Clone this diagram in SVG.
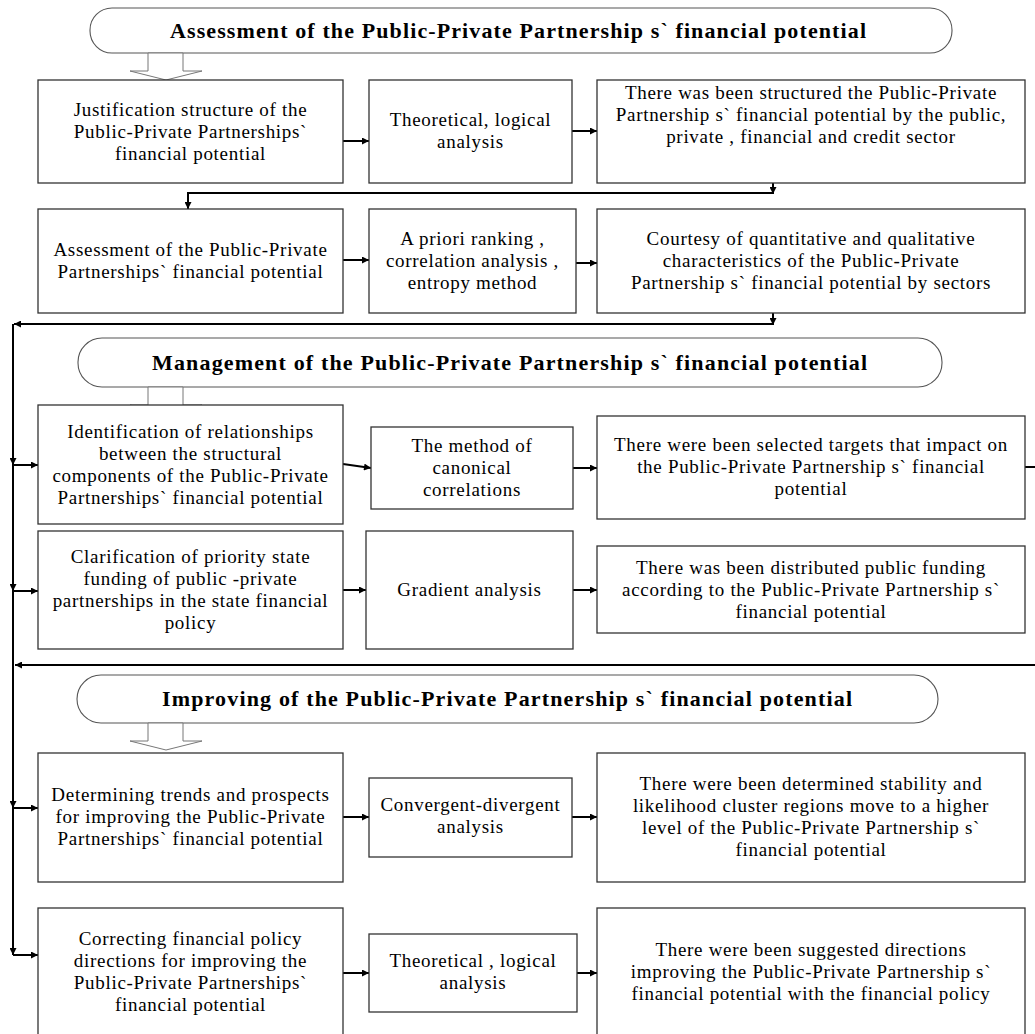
<svg xmlns="http://www.w3.org/2000/svg" width="1035" height="1034" viewBox="0 0 1035 1034">
<defs>
<marker id="ah" viewBox="0 0 10 10" refX="10" refY="5" markerWidth="9" markerHeight="7" markerUnits="userSpaceOnUse" orient="auto">
<path d="M0,0 L10,5 L0,10 Z" fill="#000"/>
</marker>
</defs>
<style>
.box{fill:#fff;stroke:#333;stroke-width:1.3}
.pill{fill:#fff;stroke:#555;stroke-width:1.1}
.hol{fill:#fff;stroke:#777;stroke-width:1}
.t{font-family:"Liberation Serif","Times New Roman",serif;font-size:19px;letter-spacing:0.7px;fill:#000;text-anchor:middle}
.h{font-family:"Liberation Serif","Times New Roman",serif;font-size:22px;font-weight:bold;fill:#000;text-anchor:middle}
.c{fill:none;stroke:#000;stroke-width:2}
.ca{fill:none;stroke:#000;stroke-width:2;marker-end:url(#ah)}
</style>
<rect width="1035" height="1034" fill="#fff"/>

<g id="connectors">
<line class="ca" x1="343" y1="141" x2="369" y2="141"/>
<line class="ca" x1="572" y1="131" x2="597" y2="131"/>
<line class="ca" x1="773" y1="183" x2="773" y2="194"/>
<path class="ca" d="M773,193 H188 V209"/>
<line class="ca" x1="343" y1="260" x2="369" y2="260"/>
<line class="ca" x1="576" y1="263" x2="597" y2="263"/>
<line class="ca" x1="773" y1="313" x2="773" y2="325"/>
<path class="ca" d="M773,324 H14"/>
<path class="ca" d="M13,324 V465"/>
<path class="ca" d="M13,465 V591"/>
<path class="ca" d="M13,591 V808"/>
<path class="ca" d="M13,808 V955"/>
<line class="ca" x1="13" y1="465" x2="38" y2="465"/>
<line class="ca" x1="13" y1="591" x2="38" y2="591"/>
<line class="ca" x1="13" y1="808" x2="38" y2="808"/>
<line class="ca" x1="13" y1="955" x2="38" y2="955"/>
<line class="ca" x1="343" y1="464" x2="371" y2="468"/>
<line class="ca" x1="573" y1="468" x2="597" y2="468"/>
<line class="c" x1="1025" y1="467" x2="1035" y2="467"/>
<line class="ca" x1="343" y1="590" x2="366" y2="590"/>
<line class="ca" x1="573" y1="590" x2="597" y2="590"/>
<path class="ca" d="M1035,665 H15"/>
<line class="ca" x1="343" y1="817" x2="369" y2="817"/>
<line class="ca" x1="572" y1="817" x2="597" y2="817"/>
<line class="ca" x1="343" y1="973" x2="369" y2="973"/>
<line class="ca" x1="577" y1="973" x2="597" y2="973"/>
</g>

<g id="stage1">
<rect class="pill" x="90" y="8" width="862" height="45" rx="22" ry="22"/>
<text class="h" x="518" y="38" textLength="696" lengthAdjust="spacing">Assessment of the Public-Private Partnership s` financial potential</text>
<polygon class="hol" points="148,53 183,53 183,71 202,71 166,80 130,71 148,71"/>
</g>

<g id="stage2">
<rect class="pill" x="78" y="338" width="864" height="49" rx="24" ry="24"/>
<text class="h" x="509.5" y="370" textLength="715" lengthAdjust="spacing">Management of the Public-Private Partnership s` financial potential</text>
<polygon class="hol" points="148,387 183,387 183,405 202,405 166,413 130,405 148,405"/>
</g>

<g id="stage3">
<rect class="pill" x="77" y="675" width="861" height="48" rx="24" ry="24"/>
<text class="h" x="507" y="706" textLength="690" lengthAdjust="spacing">Improving of the Public-Private Partnership s` financial potential</text>
<polygon class="hol" points="148,723 183,723 183,741 202,741 166,750 130,741 148,741"/>
</g>

<g id="b1"><rect class="box" x="38" y="80" width="305" height="103"/>
<text class="t"><tspan x="190.5" y="115.5">Justification structure  of the</tspan><tspan x="190.5" y="137.5">Public-Private Partnerships`</tspan><tspan x="190.5" y="159.5">financial potential</tspan></text></g>

<g id="b2"><rect class="box" x="369" y="80" width="203" height="103"/>
<text class="t"><tspan x="470.5" y="126">Theoretical, logical</tspan><tspan x="470.5" y="148">analysis</tspan></text></g>

<g id="b3"><rect class="box" x="597" y="80" width="428" height="103"/>
<text class="t"><tspan x="811" y="99">There was been structured  the Public-Private</tspan><tspan x="811" y="121">Partnership s` financial potential by the public,</tspan><tspan x="811" y="143">private , financial and credit sector</tspan></text></g>

<g id="b4"><rect class="box" x="38" y="209" width="305" height="104"/>
<text class="t"><tspan x="190.5" y="256">Assessment of the  Public-Private</tspan><tspan x="190.5" y="278">Partnerships` financial potential</tspan></text></g>

<g id="b5"><rect class="box" x="369" y="209" width="207" height="104"/>
<text class="t"><tspan x="472.5" y="245">A priori ranking ,</tspan><tspan x="472.5" y="267">correlation analysis ,</tspan><tspan x="472.5" y="289">entropy method</tspan></text></g>

<g id="b6"><rect class="box" x="597" y="209" width="428" height="104"/>
<text class="t"><tspan x="811" y="245">Courtesy of quantitative and qualitative</tspan><tspan x="811" y="267">characteristics of the Public-Private</tspan><tspan x="811" y="289">Partnership s` financial potential by sectors</tspan></text></g>

<g id="b7"><rect class="box" x="38" y="405" width="305" height="119"/>
<text class="t"><tspan x="190.5" y="437.5">Identification of relationships</tspan><tspan x="190.5" y="459.5">between the structural</tspan><tspan x="190.5" y="481.5">components of the  Public-Private</tspan><tspan x="190.5" y="503.5">Partnerships` financial potential</tspan></text></g>

<g id="b8"><rect class="box" x="371" y="427" width="202" height="82"/>
<text class="t"><tspan x="472" y="452">The method of</tspan><tspan x="472" y="474">canonical</tspan><tspan x="472" y="496">correlations</tspan></text></g>

<g id="b9"><rect class="box" x="597" y="416" width="428" height="103"/>
<text class="t"><tspan x="811" y="451">There were been selected targets that impact on</tspan><tspan x="811" y="473">the Public-Private Partnership s` financial</tspan><tspan x="811" y="495">potential</tspan></text></g>

<g id="b10"><rect class="box" x="38" y="531" width="305" height="118"/>
<text class="t"><tspan x="190.5" y="563">Clarification of priority state</tspan><tspan x="190.5" y="585">funding of public -private</tspan><tspan x="190.5" y="607">partnerships in the state financial</tspan><tspan x="190.5" y="629">policy</tspan></text></g>

<g id="b11"><rect class="box" x="366" y="531" width="207" height="118"/>
<text class="t"><tspan x="469.5" y="596">Gradient analysis</tspan></text></g>

<g id="b12"><rect class="box" x="597" y="546" width="428" height="87"/>
<text class="t"><tspan x="811" y="573.5">There was been distributed public funding</tspan><tspan x="811" y="595.5">according to the Public-Private Partnership s`</tspan><tspan x="811" y="617.5">financial potential</tspan></text></g>

<g id="b13"><rect class="box" x="38" y="753" width="305" height="129"/>
<text class="t"><tspan x="190.5" y="800.5">Determining trends and prospects</tspan><tspan x="190.5" y="822.5">for improving the  Public-Private</tspan><tspan x="190.5" y="844.5">Partnerships` financial potential</tspan></text></g>

<g id="b14"><rect class="box" x="369" y="778" width="203" height="79"/>
<text class="t"><tspan x="470.5" y="811">Convergent-divergent</tspan><tspan x="470.5" y="833">analysis</tspan></text></g>

<g id="b15"><rect class="box" x="597" y="753" width="428" height="129"/>
<text class="t"><tspan x="811" y="789.5">There were been determined stability and</tspan><tspan x="811" y="811.5">likelihood cluster regions move to a higher</tspan><tspan x="811" y="833.5">level of the Public-Private Partnership s`</tspan><tspan x="811" y="855.5">financial potential</tspan></text></g>

<g id="b16"><rect class="box" x="38" y="908" width="305" height="140"/>
<text class="t"><tspan x="190.5" y="945">Correcting financial policy</tspan><tspan x="190.5" y="967">directions for improving the</tspan><tspan x="190.5" y="989">Public-Private Partnerships`</tspan><tspan x="190.5" y="1011">financial potential</tspan></text></g>

<g id="b17"><rect class="box" x="369" y="934" width="208" height="78"/>
<text class="t"><tspan x="473" y="967">Theoretical , logical</tspan><tspan x="473" y="989">analysis</tspan></text></g>

<g id="b18"><rect class="box" x="597" y="908" width="428" height="140"/>
<text class="t"><tspan x="811" y="955.5">There were been suggested directions</tspan><tspan x="811" y="977.5">improving the Public-Private Partnership s`</tspan><tspan x="811" y="999.5">financial potential with the financial policy</tspan></text></g>
</svg>
